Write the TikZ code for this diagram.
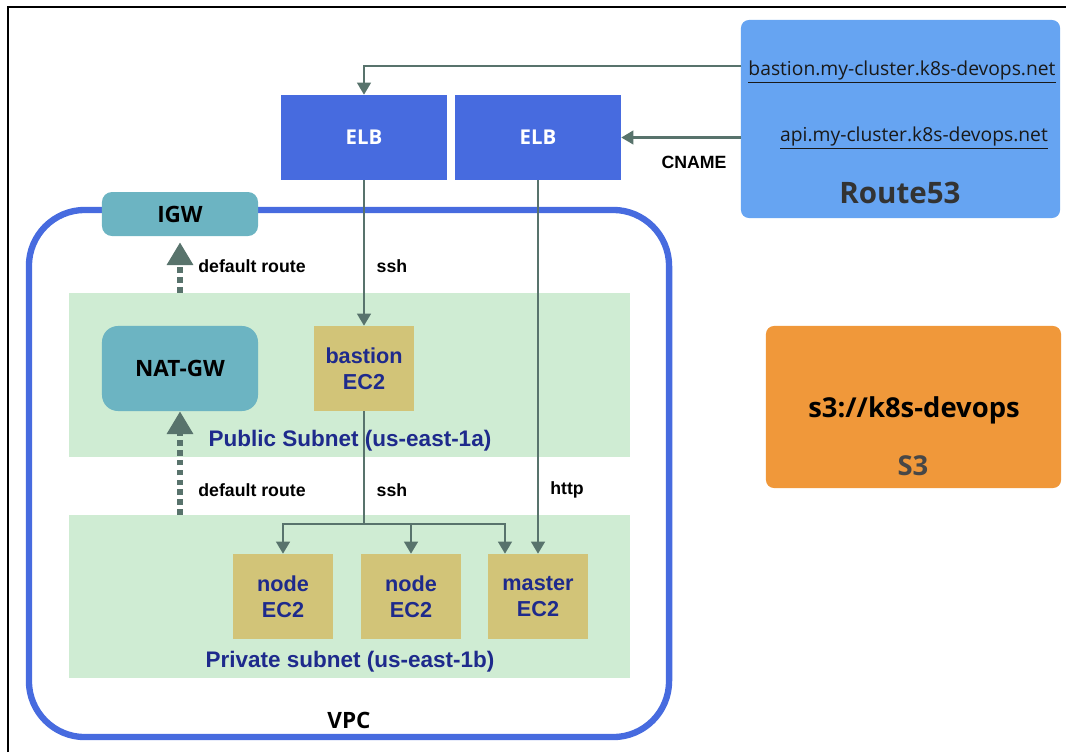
\documentclass[tikz,border=0pt]{standalone}
\usepackage{fontspec}
\setmainfont{Liberation Sans}
\newfontfamily\grande{Open Sans}
\usetikzlibrary{arrows.meta,positioning}
\definecolor{elbblue}{RGB}{71,107,223}
\definecolor{r53blue}{RGB}{102,164,242}
\definecolor{gwteal}{RGB}{108,180,194}
\definecolor{subgreen}{RGB}{207,236,211}
\definecolor{ec2khaki}{RGB}{210,196,120}
\definecolor{ec2text}{RGB}{30,42,140}
\definecolor{linkgray}{RGB}{88,115,108}
\definecolor{s3orange}{RGB}{240,152,58}

\begin{document}
\begin{tikzpicture}[x=0.025cm, y=-0.025cm, every node/.style={inner sep=0pt},
    elbbox/.style={fill=elbblue, minimum width=4.15cm, minimum height=2.125cm,
      text=white, font=\grande\bfseries\fontsize{14.5}{18}\selectfont},
    ec2box/.style={fill=ec2khaki, minimum width=2.475cm, minimum height=2.125cm,
      align=center, text=ec2text, font=\bfseries\fontsize{15.4}{18.5}\selectfont},
    gwbox/.style={fill=gwteal, minimum width=3.9cm,
      font=\grande\bfseries\fontsize{16}{20}\selectfont},
    subnet/.style={fill=subgreen, minimum width=14.025cm},
    sublabel/.style={text=ec2text, font=\bfseries\fontsize{16}{19}\selectfont},
    smalllabel/.style={font=\bfseries\fontsize{12.6}{15}\selectfont},
    dnslabel/.style={text=black!90, font=\grande\fontsize{13.7}{16}\selectfont},
    link/.style={draw=linkgray, line width=1.6pt, -{Triangle[width=0.34cm,length=0.3cm]}},
    route/.style={draw=linkgray, line width=4.2pt, dash pattern=on 4pt off 3pt,
      -{Triangle[width=0.63cm,length=0.57cm]}}]
  \useasboundingbox (0,0) rectangle (1066,752);
  \draw[line width=1.4pt] (8,752) -- (8,7) -- (1066,7);

  % subnets and VPC
  \node[subnet, minimum height=4.1cm] (pubnet) at (349.5,375) {};
  \node[subnet, minimum height=4.075cm] (privnet) at (349.5,596.5) {};
  \node[draw=elbblue, line width=4.5pt, rounded corners=1.4cm,
    minimum width=16cm, minimum height=13.175cm] (vpc) at (349,473.5) {};
  \node[sublabel] (publabel) at (350,441) {Public Subnet (us-east-1a)};
  \node[sublabel] (privlabel) at (350,662) {Private subnet (us-east-1b)};
  \node[font=\grande\bfseries\fontsize{16}{20}\selectfont] (vpclabel) at (349,720) {VPC};

  % gateways
  \node[gwbox, minimum height=1.1cm, rounded corners=0.25cm] (igw) at (180,214) {IGW};
  \node[gwbox, minimum height=2.125cm, rounded corners=0.4cm] (natgw) at (180,368.5) {NAT-GW};

  % load balancers and instances
  \node[elbbox] (elb1) at (364,137.5) {ELB};
  \node[elbbox] (elb2) at (538,137.5) {ELB};
  \node[ec2box] (bastion) at (364,368.5) {bastion\\EC2};
  \foreach \n/\x/\t in {node1/283/node, node2/411/node, master/538/master}
    \node[ec2box] (\n) at (\x,596.5) {\t\\EC2};

  % Route53 and S3
  \node[fill=r53blue, rounded corners=0.2cm, minimum width=7.975cm,
    minimum height=4.95cm] (r53) at (900.5,119) {};
  \node[dnslabel] (bastdns) at (902,72) {\underline{bastion.my-cluster.k8s-devops.net}};
  \node[dnslabel] (apidns) at (914,138) {\underline{api.my-cluster.k8s-devops.net}};
  \node[text=black!80, font=\grande\bfseries\fontsize{21}{24}\selectfont] (r53label) at (900,193) {Route53};
  \node[fill=s3orange, rounded corners=0.2cm, minimum width=7.375cm,
    minimum height=4.05cm] (s3) at (913.5,407) {};
  \node[font=\grande\bfseries\fontsize{19.5}{24}\selectfont] (bucket) at (914,410) {s3://k8s-devops};
  \node[text=black!72, font=\grande\bfseries\fontsize{19.5}{24}\selectfont] (s3label) at (913,466) {S3};

  % connectors
  \coordinate (dnsb) at (741,66);
  \draw[link] (dnsb) -| (elb1.north);
  \draw[link] (r53.west |- elb2.east) -- (elb2.east);
  \draw[link] (elb1.south) -- (bastion.north);
  \draw[link] (elb2.south) -- (master.north);
  \coordinate (split) at (bastion.south |- 0,524);
  \draw[draw=linkgray, line width=1.6pt] (bastion.south) -- (split);
  \draw[link] (split) -| (node1.north);
  \draw[link] (split) -| (node2.north);
  \draw[link] (split) -| ([xshift=-0.825cm]master.north);
  \draw[route] (natgw.north |- pubnet.north) -- ([yshift=-0.15cm]igw.south);
  \draw[route] (natgw.south |- privnet.north) -- (natgw.south);

  % labels
  \node[smalllabel] (cname) at (694,162) {CNAME};
  \node[smalllabel] (dr1) at (252,266) {default route};
  \node[smalllabel] (dr2) at (252,490) {default route};
  \node[smalllabel] (ssh1) at (392,266) {ssh};
  \node[smalllabel] (ssh2) at (392,490) {ssh};
  \node[smalllabel] (http) at (567,490) {http};
\end{tikzpicture}
\end{document}
